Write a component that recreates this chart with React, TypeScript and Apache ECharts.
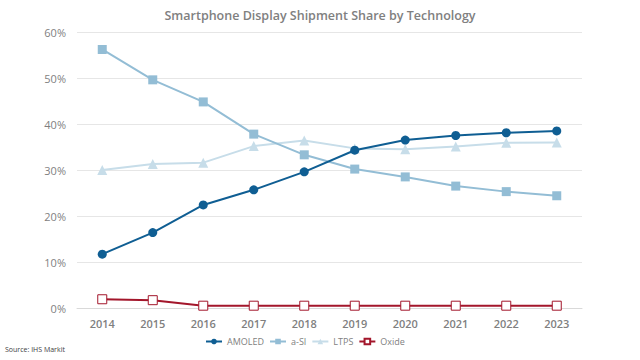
import React, { useEffect, useRef } from "react";
import * as echarts from "echarts";

const years = ["2014", "2015", "2016", "2017", "2018", "2019", "2020", "2021", "2022", "2023"];
const amoled = [11.7, 16.4, 22.4, 25.7, 29.6, 34.3, 36.5, 37.5, 38.1, 38.5];
const aSi = [56.2, 49.6, 44.8, 37.8, 33.3, 30.2, 28.5, 26.5, 25.3, 24.4];
const ltps = [30.0, 31.3, 31.6, 35.2, 36.4, 34.7, 34.5, 35.1, 35.9, 36.0];
const oxide = [1.9, 1.7, 0.5, 0.5, 0.5, 0.5, 0.5, 0.5, 0.5, 0.5];

const FONT = "'Open Sans', 'Liberation Sans', sans-serif";

export default function App() {
  const ref = useRef<HTMLDivElement>(null);
  useEffect(() => {
    const chart = echarts.init(ref.current!, null, { renderer: "svg" });
    chart.setOption({
      animation: false,
      backgroundColor: "#ffffff",
      title: {
        text: "Smartphone Display Shipment Share by Technology",
        left: "center",
        top: 4,
        textStyle: { color: "#808080", fontSize: 12.5, fontWeight: 600, fontFamily: FONT },
      },
      grid: { left: 77, right: 58, top: 32, bottom: 52 },
      xAxis: {
        type: "category",
        data: years,
        boundaryGap: true,
        axisLine: { lineStyle: { color: "#d9d9d9" } },
        axisTick: { show: false },
        axisLabel: { color: "#7f7f7f", fontSize: 11, fontWeight: 600, fontFamily: FONT, margin: 10 },
      },
      yAxis: {
        type: "value",
        min: 0,
        max: 60,
        interval: 10,
        axisLine: { show: false },
        axisTick: { show: false },
        splitLine: { lineStyle: { color: "#e6e6e6" } },
        axisLabel: { color: "#7f7f7f", fontSize: 11, fontFamily: FONT, formatter: "{value}%", margin: 11 },
      },
      legend: {
        bottom: 9,
        left: 200,
        itemWidth: 16,
        itemHeight: 7,
        itemGap: 5,
        textStyle: { color: "#7f7f7f", fontSize: 9, fontFamily: FONT },
        data: ["AMOLED", "a-SI", "LTPS", "Oxide"],
      },
      graphic: [
        {
          type: "text",
          left: 5,
          top: 346,
          style: { text: "Source: IHS Markit", fill: "#404040", fontSize: 7, fontFamily: FONT },
        },
      ],
      series: [
        {
          name: "AMOLED",
          type: "line",
          data: amoled,
          symbol: "circle",
          symbolSize: 9,
          lineStyle: { color: "#0f5e93", width: 2 },
          itemStyle: { color: "#0f5e93" },
          z: 4,
        },
        {
          name: "a-SI",
          type: "line",
          data: aSi,
          symbol: "rect",
          symbolSize: 9,
          lineStyle: { color: "#93bdd5", width: 2 },
          itemStyle: { color: "#93bdd5" },
          z: 3,
        },
        {
          name: "LTPS",
          type: "line",
          data: ltps,
          symbol: "triangle",
          symbolSize: 10,
          lineStyle: { color: "#c7dde9", width: 2 },
          itemStyle: { color: "#c7dde9" },
          z: 2,
        },
        {
          name: "Oxide",
          type: "line",
          data: oxide,
          symbol: "rect",
          symbolSize: 9,
          lineStyle: { color: "#a3162b", width: 2 },
          itemStyle: { color: "#ffffff", borderColor: "#a3162b", borderWidth: 1 },
          z: 1,
        },
      ],
    });
    return () => chart.dispose();
  }, []);
  return <div ref={ref} style={{ width: 640, height: 360, position: "absolute", left: 0, top: 0 }} />;
}
